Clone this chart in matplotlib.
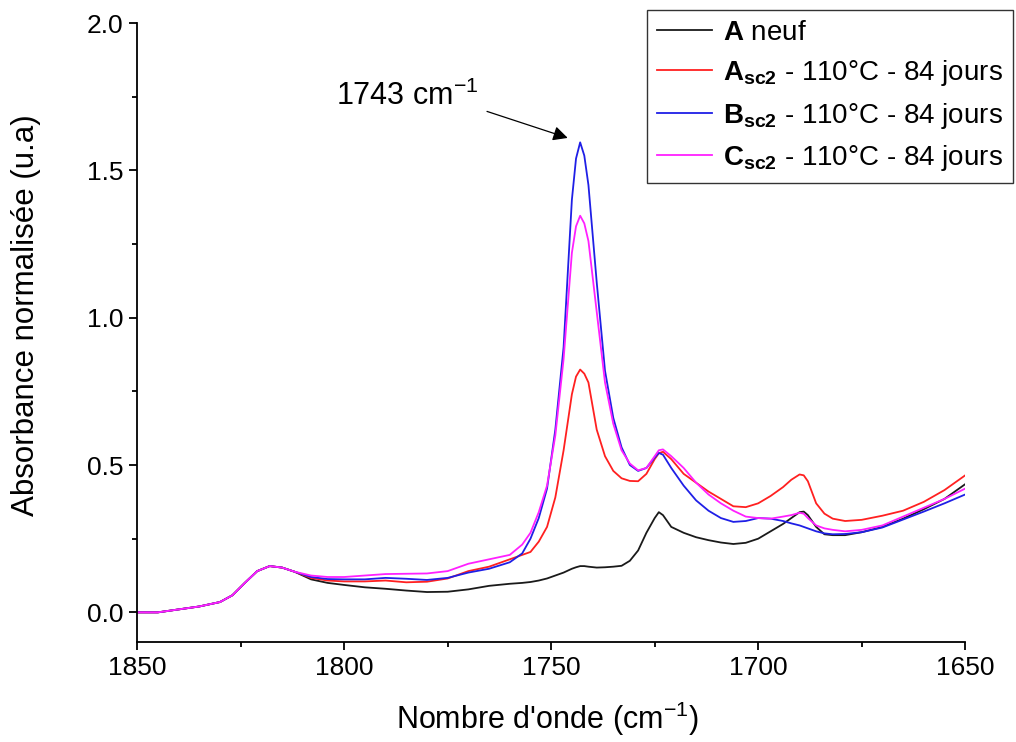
import numpy as np
import matplotlib
matplotlib.use("Agg")
import matplotlib.pyplot as plt
from matplotlib.ticker import MultipleLocator, FormatStrFormatter

plt.rcParams['font.family'] = ['Liberation Sans', 'DejaVu Sans']
plt.rcParams['mathtext.fontset'] = 'custom'
plt.rcParams['mathtext.rm'] = 'Liberation Sans'
plt.rcParams['mathtext.bf'] = 'Liberation Sans:bold'
plt.rcParams['mathtext.it'] = 'Liberation Sans:italic'

# Wavenumbers (cm-1) and normalised absorbance
wn = [1850, 1845, 1840, 1835, 1830, 1827, 1824, 1821, 1818, 1815, 1812,
      1808, 1804, 1800, 1795, 1790, 1785, 1780, 1775, 1770, 1765, 1760,
      1757, 1755, 1753, 1751, 1749, 1747, 1745, 1744, 1743, 1742, 1741,
      1739, 1737, 1735, 1733, 1731, 1729, 1727, 1725, 1724, 1723, 1721,
      1718, 1715, 1712, 1709, 1706, 1703, 1700, 1697, 1694, 1692, 1690,
      1689, 1688, 1686, 1684, 1682, 1679, 1675, 1670, 1665, 1660, 1655, 1650]

start = [0.0, 0.0, 0.01, 0.02, 0.035, 0.058, 0.10, 0.14, 0.157, 0.152, 0.138]

a_neuf = start + [0.112, 0.100, 0.093, 0.085, 0.080, 0.074, 0.069, 0.070, 0.078, 0.090, 0.097,
                  0.100, 0.103, 0.108, 0.115, 0.125, 0.135, 0.148, 0.153, 0.157, 0.157, 0.155,
                  0.152, 0.153, 0.155, 0.158, 0.175, 0.21, 0.27, 0.32, 0.34, 0.33, 0.29,
                  0.27, 0.255, 0.245, 0.237, 0.232, 0.236, 0.25, 0.275, 0.30, 0.32, 0.34,
                  0.342, 0.33, 0.29, 0.265, 0.262, 0.262, 0.272, 0.29, 0.318, 0.35, 0.385, 0.435]

a_sc2 = start + [0.117, 0.108, 0.105, 0.105, 0.108, 0.102, 0.104, 0.115, 0.14, 0.155, 0.18,
                 0.195, 0.205, 0.24, 0.29, 0.39, 0.55, 0.74, 0.80, 0.824, 0.81, 0.78,
                 0.62, 0.53, 0.48, 0.455, 0.446, 0.445, 0.47, 0.52, 0.54, 0.545, 0.52,
                 0.47, 0.44, 0.41, 0.385, 0.36, 0.357, 0.37, 0.395, 0.425, 0.45, 0.468,
                 0.465, 0.445, 0.37, 0.335, 0.318, 0.31, 0.314, 0.328, 0.345, 0.375, 0.415, 0.465]

b_sc2 = start + [0.12, 0.113, 0.112, 0.112, 0.117, 0.114, 0.11, 0.117, 0.135, 0.148, 0.17,
                 0.20, 0.25, 0.32, 0.42, 0.62, 0.90, 1.40, 1.54, 1.595, 1.55, 1.45,
                 1.12, 0.82, 0.66, 0.56, 0.50, 0.48, 0.49, 0.525, 0.541, 0.535, 0.49,
                 0.43, 0.38, 0.345, 0.32, 0.307, 0.31, 0.32, 0.318, 0.31, 0.302, 0.295,
                 0.29, 0.285, 0.275, 0.268, 0.265, 0.266, 0.272, 0.288, 0.315, 0.342, 0.37, 0.40]

c_sc2 = start + [0.125, 0.120, 0.12, 0.125, 0.130, 0.131, 0.132, 0.14, 0.165, 0.18, 0.195,
                 0.23, 0.27, 0.34, 0.43, 0.60, 0.86, 1.22, 1.31, 1.346, 1.32, 1.26,
                 1.02, 0.78, 0.64, 0.55, 0.505, 0.482, 0.49, 0.53, 0.55, 0.553, 0.53,
                 0.49, 0.44, 0.40, 0.37, 0.345, 0.325, 0.32, 0.318, 0.325, 0.33, 0.338,
                 0.335, 0.32, 0.295, 0.285, 0.28, 0.275, 0.28, 0.295, 0.325, 0.355, 0.385, 0.42]

labels = [r'$\mathbf{A}$ neuf',
          r'$\mathbf{A_{sc2}}$ - 110°C - 84 jours',
          r'$\mathbf{B_{sc2}}$ - 110°C - 84 jours',
          r'$\mathbf{C_{sc2}}$ - 110°C - 84 jours']
colors = ['#1a1a1a', '#ff2020', '#1f1fe6', '#ff20ff']
series = [a_neuf, a_sc2, b_sc2, c_sc2]

fig = plt.figure(figsize=(10.16, 7.42), dpi=100)
ax = fig.add_axes([0.135, 0.135, 0.815, 0.834])

for y, c, lab in zip(series, colors, labels):
    ax.plot(wn, y, color=c, lw=1.3, label=lab)

ax.set_xlim(1850, 1650)
ax.set_ylim(-0.1, 2.0)
ax.xaxis.set_major_locator(MultipleLocator(50))
ax.xaxis.set_minor_locator(MultipleLocator(25))
ax.yaxis.set_major_locator(MultipleLocator(0.5))
ax.yaxis.set_minor_locator(MultipleLocator(0.25))
ax.yaxis.set_major_formatter(FormatStrFormatter('%.1f'))
ax.tick_params(which='major', length=6, width=1.3, labelsize=19, pad=4)
ax.tick_params(which='minor', length=3.5, width=1.3)
ax.spines['top'].set_visible(False)
ax.spines['right'].set_visible(False)
ax.spines['left'].set_linewidth(1.3)
ax.spines['bottom'].set_linewidth(1.3)

ax.set_xlabel(r"Nombre d'onde (cm$^{-1}$)", fontsize=22, va='center')
ax.xaxis.set_label_coords(0.495, -0.125)
ax.set_ylabel("Absorbance normalisée (u.a)", fontsize=22.5, va='center')
ax.yaxis.set_label_coords(-0.134, 0.528)

# peak annotation
ax.annotate('', xy=(1746.0, 1.61), xytext=(1765.5, 1.70),
            arrowprops=dict(arrowstyle='-|>', color='black', lw=0.9,
                            mutation_scale=22, shrinkA=0, shrinkB=0))
ax.text(1802, 1.75, r'1743 cm$^{-1}$', fontsize=22, ha='left', va='center')

leg = ax.legend(loc='upper right', bbox_to_anchor=(1013 / 1016, 1 - 10 / 742),
                bbox_transform=fig.transFigure, fontsize=20, frameon=True,
                fancybox=False, edgecolor='black', handlelength=2.0,
                borderpad=0.35, labelspacing=0.45, handletextpad=0.4, borderaxespad=0)
leg.get_frame().set_linewidth(1.0)

fig.savefig('out.png', dpi=100)
